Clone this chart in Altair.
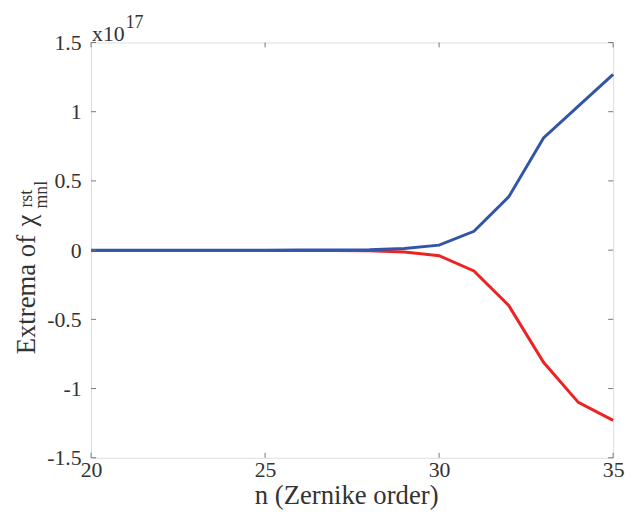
import altair as alt
import pandas as pd

# Data (values in units of 1e17)
n_vals = [20, 21, 22, 23, 24, 25, 26, 27, 28, 29, 30, 31, 32, 33, 34, 35]
max_vals = [0, 0, 0, 0, 0, 0, 0.0003, 0.001, 0.003, 0.012, 0.036, 0.136, 0.385, 0.81, 1.04, 1.27]
min_vals = [-0.002, -0.002, -0.002, -0.002, -0.002, -0.002, -0.002, -0.003, -0.005, -0.013, -0.04, -0.15, -0.40, -0.81, -1.10, -1.23]
x_ticks = [20, 25, 30, 35]
y_ticks = [-1.5, -1, -0.5, 0, 0.5, 1, 1.5]

W, H = 528, 420
FONT = "Liberation Serif"
TXT = "#333333"
AX = "#777777"

df = pd.DataFrame({
    "n": n_vals * 2,
    "v": max_vals + min_vals,
    "s": ["max"] * len(n_vals) + ["min"] * len(n_vals),
})

xs = alt.Scale(domain=[20, 35], nice=False, zero=False)
ys = alt.Scale(domain=[-1.5, 1.5], nice=False)

xaxis = alt.Axis(values=x_ticks, title="n (Zernike order)", grid=False, domain=False,
                 ticks=False, tickSize=0, labelFont=FONT, labelFontSize=22, labelColor=TXT,
                 labelPadding=2, labelFlush=False, titleFont=FONT, titleFontSize=27,
                 titleFontWeight="normal", titleColor=TXT, titleX=258, titleY=46,
                 titleBaseline="alphabetic", titleAnchor="start", titleAlign="center")
yaxis = alt.Axis(values=y_ticks, title=None, grid=False, domain=False, ticks=False,
                 tickSize=0, labelFont=FONT, labelFontSize=22, labelColor=TXT,
                 labelPadding=10, labelFlush=False, labelExpr="'' + datum.value")

red = alt.Chart(df[df.s == "min"]).mark_line(color="#EE2222", strokeWidth=3).encode(
    x=alt.X("n:Q", scale=xs, axis=xaxis),
    y=alt.Y("v:Q", scale=ys, axis=yaxis),
)
blue = alt.Chart(df[df.s == "max"]).mark_line(color="#3355A8", strokeWidth=3).encode(
    x=alt.X("n:Q", scale=xs),
    y=alt.Y("v:Q", scale=ys),
)

xt = pd.DataFrame({"t": x_ticks})
yt = pd.DataFrame({"t": y_ticks})
tl = 5
tick_layers = [
    alt.Chart(xt).mark_rule(color=AX, strokeWidth=1).encode(x=alt.X("t:Q", scale=xs), y=alt.value(H), y2=alt.value(H - tl)),
    alt.Chart(xt).mark_rule(color=AX, strokeWidth=1).encode(x=alt.X("t:Q", scale=xs), y=alt.value(0), y2=alt.value(tl)),
    alt.Chart(yt).mark_rule(color=AX, strokeWidth=1).encode(y=alt.Y("t:Q", scale=ys), x=alt.value(0), x2=alt.value(tl)),
    alt.Chart(yt).mark_rule(color=AX, strokeWidth=1).encode(y=alt.Y("t:Q", scale=ys), x=alt.value(W), x2=alt.value(W - tl)),
]

def txt(text, x, y, size, angle=0, align="left", baseline="alphabetic"):
    kw = dict(text=text, font=FONT, fontSize=size, color=TXT, align=align, baseline=baseline)
    if angle:
        kw["angle"] = angle
    return alt.Chart(pd.DataFrame({"a": [0]})).mark_text(**kw).encode(x=alt.value(x), y=alt.value(y))

labels = [
    txt("Extrema of", -57, 255, 27, angle=270, align="center"),
    txt("χ", -57, 180, 27, angle=270, align="center"),
    txt("rst", -60, 158, 18, angle=270, align="center"),
    txt("mnl", -45, 154, 18, angle=270, align="center"),
    txt("x10", 1, -2, 22),
    txt("17", 35, -15, 18),
]

chart = alt.layer(red, blue, *tick_layers, *labels).properties(
    width=W, height=H,
    autosize=alt.AutoSizeParams(type="none"),
    padding={"left": 84, "top": 32, "right": 13, "bottom": 55},
).configure_view(stroke=AX, strokeWidth=1).configure(background="white", font=FONT)

chart.save("out.html", embed_options={"renderer": "svg", "actions": False})
